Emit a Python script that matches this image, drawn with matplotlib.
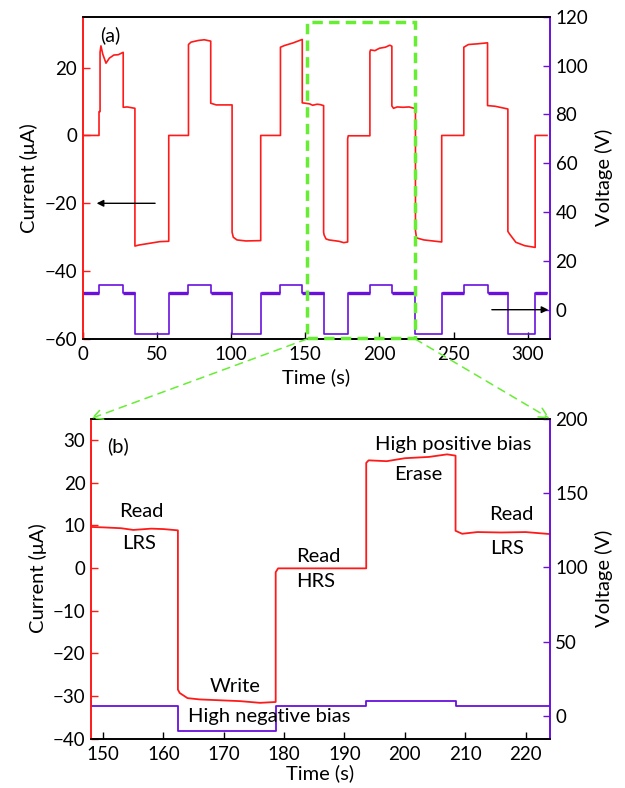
import matplotlib
matplotlib.use("Agg")
import matplotlib.pyplot as plt
from matplotlib.patches import Rectangle, ConnectionPatch

plt.rcParams["font.family"] = ["Lato", "DejaVu Sans"]
plt.rcParams["font.size"] = 13.5
plt.rcParams["axes.labelsize"] = 14.5

RED = "#ff1a1a"
PURPLE = "#6a10dd"
GREEN = "#66ee33"

# applied voltage: step edges (s) and level in each interval (V)
v_edges = [0, 11.0, 27.3, 35.2, 58.0, 71.3, 86.3, 100.7, 120.0, 133.3, 148.0,
           162.4, 178.6, 193.6, 208.4, 224.3, 242.0, 256.9, 272.9, 286.6, 305.0, 313.0]
v_levels = [7, 10, 7, -10, 7, 10, 7, -10, 7, 10, 7,
            -10, 7, 10, 7, -10, 7, 10, 7, -10, 7]
READ_V = 7

cur_t = [0, 11.0,
         11.0, 11.7, 11.7, 12.3, 13.5, 15.7, 18.0, 21.0, 24.0, 27.3,
         27.3, 30.0, 35.2,
         35.2, 38.0, 45.0, 52.0, 58.0,
         58.0, 71.3,
         71.3, 73.0, 78.0, 82.0, 86.3,
         86.3, 90.0, 100.7,
         100.7, 101.5, 104.0, 110.0, 120.0,
         120.0, 133.3,
         133.3, 136.0, 142.0, 148.0,
         148.0, 150.0, 153.0, 155.0, 158.0, 160.0, 162.4,
         162.4, 162.7, 164.0, 166.0, 172.7, 176.0, 178.6,
         178.6, 179.0, 193.6,
         193.6, 194.0, 197.0, 200.0, 204.0, 207.0, 208.4,
         208.4, 209.5, 212.0, 216.0, 220.0, 224.3,
         224.3, 225.0, 230.0, 242.0,
         242.0, 256.9,
         256.9, 260.0, 266.0, 272.9,
         272.9, 278.0, 286.6,
         286.6, 288.0, 292.0, 298.0, 305.0,
         305.0, 313.0]
cur_i = [0, 0,
         7.0, 7.0, 24.5, 26.4, 24.0, 21.3, 22.8, 23.7, 23.8, 24.5,
         8.3, 8.4, 8.0,
         -32.6, -32.3, -31.8, -31.3, -31.2,
         0, 0,
         26.8, 27.5, 28.0, 28.2, 27.8,
         9.5, 9.0, 9.0,
         -28.5, -30.0, -30.8, -31.1, -31.0,
         0, 0,
         26.0, 26.5, 27.3, 28.3,
         9.6, 9.5, 9.3, 8.9, 9.2, 9.1, 8.8,
         -28.5, -29.3, -30.5, -30.8, -31.2, -31.6, -31.4,
         -1.0, -0.1, -0.1,
         24.6, 25.2, 25.0, 25.7, 26.0, 26.6, 26.3,
         8.7, 8.0, 8.4, 8.3, 8.4, 7.9,
         -28.0, -30.2, -30.8, -31.4,
         0, 0,
         26.0, 26.8, 27.0, 27.3,
         8.8, 8.6, 7.8,
         -28.3, -29.2, -31.5, -32.5, -33.0,
         0, 0]

# step-line vertices for the voltage waveform
volt_t, volt_v = [], []
for k, lev in enumerate(v_levels):
    volt_t += [v_edges[k], v_edges[k + 1]]
    volt_v += [lev, lev]


def style_axes(ax, axv):
    for a in (ax, axv):
        a.spines["top"].set_color("k")
        a.spines["bottom"].set_color("k")
        a.spines["left"].set_color(RED)
        a.spines["right"].set_color(PURPLE)
        for s in a.spines.values():
            s.set_linewidth(1.2)
    ax.tick_params(axis="x", direction="in", length=5, width=1, color="k", pad=5)
    ax.tick_params(axis="y", direction="in", length=5, width=1, color=RED, pad=4)
    axv.tick_params(axis="y", direction="in", length=5, width=1, color=PURPLE, pad=4)


fig = plt.figure(figsize=(6.25, 7.88), dpi=100)

# ---- (a) full measurement ----
axa = fig.add_axes([82.7 / 625, 1 - 339 / 788, (550 - 82.7) / 625, (339 - 16.7) / 788])
axa_v = axa.twinx()
axa.plot(cur_t, cur_i, color=RED, lw=1.2)
axa_v.plot(volt_t, volt_v, color=PURPLE, lw=1.2)
for k, lev in enumerate(v_levels):
    if lev == READ_V:
        axa_v.plot([v_edges[k], v_edges[k + 1]], [lev, lev], color=PURPLE, lw=2.4,
                   solid_capstyle="butt")
axa.set_xlim(0, 315)
axa.set_ylim(-60, 35)
axa_v.set_ylim(-12, 120)
axa.set_xticks(range(0, 301, 50))
axa.set_yticks(range(-60, 21, 20))
axa_v.set_yticks(range(0, 121, 20))
axa.set_xlabel("Time (s)", labelpad=4)
axa.set_ylabel("Current (μA)", labelpad=5)
axa_v.set_ylabel("Voltage (V)", labelpad=5)
style_axes(axa, axa_v)
axa.text(18.4, 29.6, "(a)", ha="center", va="center", fontsize=14)
axa.annotate("", xy=(9.4, -20), xytext=(48.8, -20),
             arrowprops=dict(arrowstyle="-|>", color="k", lw=1, mutation_scale=10,
                             shrinkA=0, shrinkB=0))
axa_v.annotate("", xy=(313.9, 0), xytext=(275.8, 0),
               arrowprops=dict(arrowstyle="-|>", color="k", lw=1, mutation_scale=10,
                               shrinkA=0, shrinkB=0))
axa_v.add_patch(Rectangle((151.2, -59.6), 224.1 - 151.2, 33.5 + 59.6,
                          transform=axa.transData, fill=False, ec=GREEN, lw=2.5,
                          ls=(0, (3, 1.8)), clip_on=False, zorder=5))

# ---- (b) one write/erase cycle ----
axb = fig.add_axes([91 / 625, 1 - 738.7 / 788, (549.7 - 91) / 625, (738.7 - 418.5) / 788])
axb_v = axb.twinx()
axb.plot(cur_t, cur_i, color=RED, lw=1.3)
axb_v.plot(volt_t, volt_v, color=PURPLE, lw=1.3)
axb.set_xlim(148, 224)
axb.set_ylim(-40, 35)
axb_v.set_ylim(-15, 200)
axb.set_xticks(range(150, 221, 10))
axb.set_yticks(range(-40, 31, 10))
axb_v.set_yticks(range(0, 201, 50))
axb.set_xlabel("Time (s)", labelpad=1)
axb.set_ylabel("Current (μA)", labelpad=4)
axb_v.set_ylabel("Voltage (V)", labelpad=5)
style_axes(axb, axb_v)

notes = [(152.5, 28.6, "(b)"), (156.3, 13.2, "Read"), (155.9, 5.8, "LRS"),
         (185.6, 2.6, "Read"), (185.2, -3.2, "HRS"), (171.9, -27.8, "Write"),
         (177.6, -34.7, "High negative bias"), (208.0, 29.0, "High positive bias"),
         (202.2, 21.8, "Erase"), (217.7, 12.4, "Read"), (217.0, 4.6, "LRS")]
for x, y, s in notes:
    axb_v.text(x, y, s, ha="center", va="center", fontsize=14.5,
               transform=axb.transData)

# dashed zoom guides from the boxed window down to panel (b)
for xa, xb in [(151.2, 148), (224.1, 224)]:
    con = ConnectionPatch(xyA=(xa, -60), coordsA=axa.transData,
                          xyB=(xb, 35), coordsB=axb.transData,
                          arrowstyle="->", color=GREEN, lw=1.1, ls=(0, (5, 4)),
                          mutation_scale=18, shrinkA=0, shrinkB=0)
    fig.add_artist(con)

fig.savefig("out.png", dpi=100)
